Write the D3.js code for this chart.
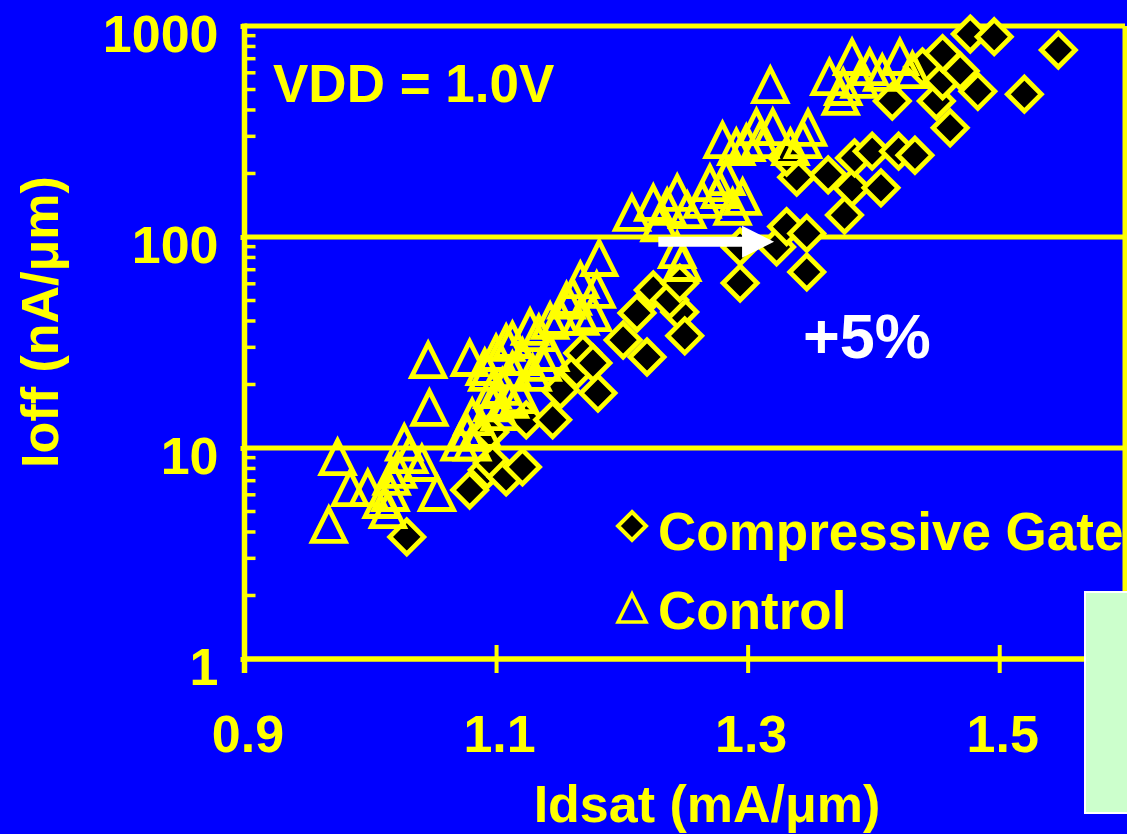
<!DOCTYPE html>
<html>
<head>
<meta charset="utf-8">
<script src="https://cdn.jsdelivr.net/npm/d3@7"></script>
<style>
  html, body { margin: 0; padding: 0; background: #0000ff; overflow: hidden; }
  text { font-family: "Liberation Sans", Arial, sans-serif; font-weight: bold; }
</style>
</head>
<body>
<svg id="chart" width="1127" height="834"></svg>
<script>
// Axis ticks
const xTicks = [0.9, 1.1, 1.3, 1.5];
const yTicks = [1, 10, 100, 1000];
const seriesNames = ["Compressive Gate", "Control"];

// Compressive gate devices: Idsat (mA/um) and Ioff (nA/um)
const gateIdsat = [1.029, 1.079, 1.093, 1.097, 1.108, 1.121, 1.124, 1.145, 1.151, 1.164,
  1.169, 1.181, 1.201, 1.212, 1.220, 1.225, 1.246, 1.250, 1.238, 1.294,
  1.294, 1.323, 1.331, 1.347, 1.347, 1.339, 1.331, 1.364, 1.377, 1.383,
  1.385, 1.399, 1.406, 1.420, 1.433, 1.415, 1.450, 1.461, 1.455, 1.469,
  1.477, 1.455, 1.439, 1.496, 1.547, 1.520, 1.483, 1.177, 1.095, 1.246];
const gateIoff = [3.79, 6.32, 7.87, 8.49, 7.29, 8.13, 13.6, 13.6, 18.8, 23.4,
  28.2, 18.2, 32.5, 43.6, 27.0, 56.1, 44.1, 34.0, 50.3, 60.5,
  89.7, 89.7, 112, 68.3, 104, 192, 239, 197, 127, 171,
  237, 255, 171, 255, 244, 441, 441, 329, 550, 612,
  916, 740, 640, 890, 769, 475, 490, 25.3, 11.9, 60.5];

// Control devices
const controlIdsat = [0.967, 0.974, 0.984, 0.998, 1.014, 1.017, 1.027, 1.031, 1.041, 1.053,
  1.046, 1.047, 1.079, 1.071, 1.077, 1.081, 1.089, 1.081, 1.097, 1.097,
  1.105, 1.093, 1.091, 1.100, 1.108, 1.113, 1.113, 1.121, 1.127, 1.134,
  1.129, 1.137, 1.143, 1.143, 1.151, 1.156, 1.161, 1.167, 1.167, 1.177,
  1.180, 1.182, 1.009, 1.022, 1.103, 1.111, 1.119, 1.016, 1.208, 1.225,
  1.230, 1.236, 1.244, 1.244, 1.248, 1.252, 1.264, 1.270, 1.278, 1.283,
  1.288, 1.296, 1.280, 1.291, 1.299, 1.310, 1.320, 1.334, 1.318, 1.307,
  1.348, 1.344, 1.365, 1.376, 1.383, 1.397, 1.407, 1.421, 1.431, 1.374, 1.389];
const controlIoff = [4.32, 9.06, 6.46, 6.46, 5.08, 7.29, 10.6, 9.26, 8.49, 6.12,
  26.1, 15.5, 26.7, 10.6, 11.8, 10.6, 12.2, 14.0, 16.3, 18.8,
  19.5, 22.7, 24.2, 28.2, 31.5, 32.5, 23.4, 27.0, 37.5, 35.0,
  22.7, 25.3, 40.0, 28.2, 41.8, 50.0, 52.0, 62.5, 41.8, 43.6,
  56.1, 79.5, 5.67, 7.87, 14.8, 16.9, 17.8, 6.12, 130, 145,
  116, 139, 162, 86.7, 75.3, 134, 150, 180, 167, 192,
  139, 155, 288, 267, 279, 288, 332, 267, 525, 332,
  329, 288, 573, 514, 713, 639, 600, 713, 618, 461, 555];

// Shift arrow between the two populations
const arrowIdsat = [1.229, 1.321];
const arrowIoff = 95;

const W = 1127, H = 834;
const BLUE = "#0000ff", YELLOW = "#ffff00";
const svg = d3.select("#chart");

svg.append("rect").attr("width", W).attr("height", H).attr("fill", BLUE);

const x = d3.scaleLinear().domain([0.9, 1.6]).range([244.5, 1125]);
const y = d3.scaleLog().domain([1, 1000]).range([659, 26]);

// Grid lines at decades and plot frame
const frame = svg.append("g");
frame.selectAll("line.grid").data([10, 100, 1000]).join("line")
  .attr("x1", x(0.9)).attr("x2", x(1.6))
  .attr("y1", d => y(d)).attr("y2", d => y(d))
  .attr("stroke", YELLOW).attr("stroke-width", 5);
frame.append("line")
  .attr("x1", x(1.6)).attr("x2", x(1.6)).attr("y1", y(1000)).attr("y2", y(1))
  .attr("stroke", YELLOW).attr("stroke-width", 5);

// Minor ticks (2..9 within each decade), pointing into the plot
const minorTicks = [];
yTicks.slice(0, -1).forEach(d => { for (let k = 2; k <= 9; k++) minorTicks.push(d * k); });
frame.selectAll("line.minor").data(minorTicks).join("line")
  .attr("x1", x(0.9)).attr("x2", x(0.9) + 11)
  .attr("y1", d => y(d)).attr("y2", d => y(d))
  .attr("stroke", YELLOW).attr("stroke-width", 3.5);

// X axis
const xAxis = d3.axisBottom(x).tickValues(xTicks).tickSize(28).tickFormat(d3.format(".1f"));
svg.append("g").attr("transform", `translate(0,${y(1) - 14})`).call(xAxis)
  .call(g => g.select(".domain").remove())
  .call(g => g.selectAll(".tick line").attr("stroke", YELLOW).attr("stroke-width", 4))
  .call(g => g.selectAll(".tick text")
    .attr("fill", YELLOW).attr("font-size", 52).attr("y", 107).attr("dy", null).attr("x", 3)
    .style("font-family", '"Liberation Sans", Arial, sans-serif').style("font-weight", "bold"));
svg.append("line")
  .attr("x1", x(0.9) - 2).attr("x2", x(1.6)).attr("y1", y(1)).attr("y2", y(1))
  .attr("stroke", YELLOW).attr("stroke-width", 5.5);

// Y axis
const yAxis = d3.axisLeft(y).tickValues(yTicks).tickSize(4).tickFormat(d3.format("d"));
svg.append("g").attr("transform", `translate(${x(0.9)},0)`).call(yAxis)
  .call(g => g.select(".domain").remove())
  .call(g => g.selectAll(".tick line").attr("stroke", YELLOW).attr("stroke-width", 5))
  .call(g => g.selectAll(".tick text")
    .attr("fill", YELLOW).attr("font-size", 52).attr("x", -26).attr("dy", null).attr("y", 25)
    .style("font-family", '"Liberation Sans", Arial, sans-serif').style("font-weight", "bold"));
svg.append("line")
  .attr("x1", x(0.9)).attr("x2", x(0.9)).attr("y1", y(1000) - 2.5).attr("y2", y(1) + 14)
  .attr("stroke", YELLOW).attr("stroke-width", 5.5);

// Axis titles
svg.append("text").attr("x", 707).attr("y", 822).attr("text-anchor", "middle")
  .attr("font-size", 52).attr("fill", YELLOW).text("Idsat (mA/μm)");
svg.append("text").attr("transform", "translate(58,322) rotate(-90)").attr("text-anchor", "middle")
  .attr("font-size", 52).attr("fill", YELLOW).text("Ioff (nA/μm)");

// Marker shapes
const diamond = r => `M0,${-r}L${r},0L0,${r}L${-r},0Z`;
const triangle = (w, h) => `M0,${-h}L${w},${h}L${-w},${h}Z`;

const gate = gateIdsat.map((v, i) => ({ idsat: v, ioff: gateIoff[i] }));
const control = controlIdsat.map((v, i) => ({ idsat: v, ioff: controlIoff[i] }));

svg.append("g").selectAll("path").data(gate).join("path")
  .attr("transform", d => `translate(${x(d.idsat)},${y(d.ioff)})`)
  .attr("d", diamond(17))
  .attr("fill", "#000").attr("stroke", YELLOW).attr("stroke-width", 4.8);

svg.append("g").selectAll("path").data(control).join("path")
  .attr("transform", d => `translate(${x(d.idsat)},${y(d.ioff)})`)
  .attr("d", triangle(16.5, 16.5))
  .attr("fill", "none").attr("stroke", YELLOW).attr("stroke-width", 4.8)
  .attr("stroke-linejoin", "miter");

// Arrow annotation
const ay = y(arrowIoff), ax0 = x(arrowIdsat[0]), ax1 = x(arrowIdsat[1]);
svg.append("path")
  .attr("d", `M${ax0},${ay - 5}L${ax1 - 32},${ay - 5}L${ax1 - 32},${ay - 16}L${ax1},${ay}` +
             `L${ax1 - 32},${ay + 16}L${ax1 - 32},${ay + 5}L${ax0},${ay + 5}Z`)
  .attr("fill", "#fff");
svg.append("text").attr("x", 803).attr("y", 358).attr("font-size", 63)
  .attr("fill", "#fff").text("+5%");

// Condition label
svg.append("text").attr("x", 273).attr("y", 102).attr("font-size", 53)
  .attr("fill", YELLOW).text("VDD = 1.0V");

// Legend
const legend = svg.append("g");
legend.append("path").attr("transform", "translate(632,526)").attr("d", diamond(14))
  .attr("fill", "#000").attr("stroke", YELLOW).attr("stroke-width", 4);
legend.append("text").attr("x", 658).attr("y", 550).attr("font-size", 53)
  .attr("fill", YELLOW).text(seriesNames[0]);
legend.append("path").attr("transform", "translate(632,608)").attr("d", triangle(14, 14))
  .attr("fill", "none").attr("stroke", YELLOW).attr("stroke-width", 3.5);
legend.append("text").attr("x", 658).attr("y", 629).attr("font-size", 53)
  .attr("fill", YELLOW).text(seriesNames[1]);

// Light panel at the lower right edge
svg.append("rect").attr("x", 1085).attr("y", 592).attr("width", 50).attr("height", 221)
  .attr("fill", "#ccffcc").attr("stroke", "#ffffff").attr("stroke-width", 2);
</script>
</body>
</html>
